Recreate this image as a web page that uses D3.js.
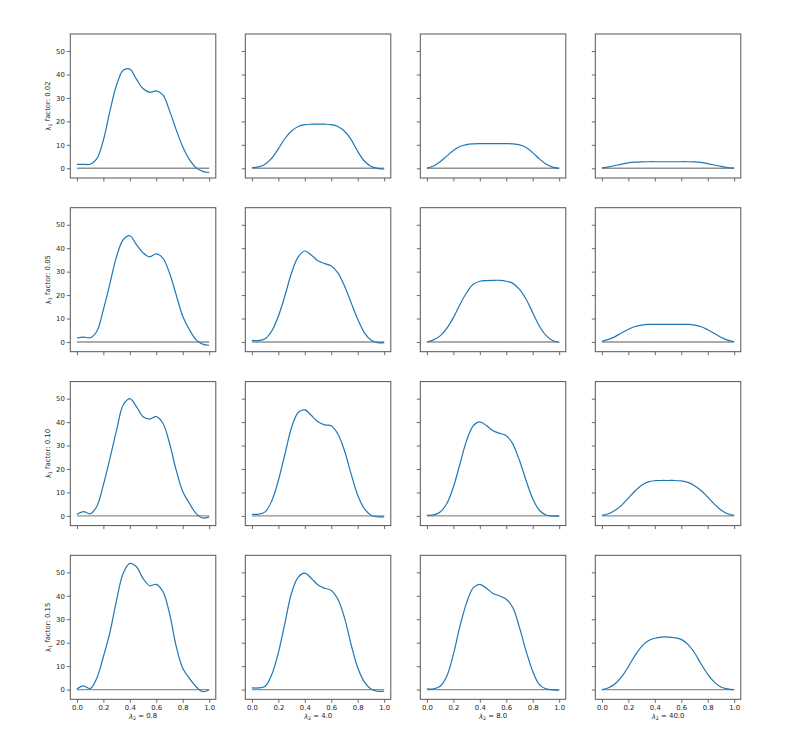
<!DOCTYPE html>
<html>
<head>
<meta charset="utf-8">
<script src="https://cdn.jsdelivr.net/npm/d3@7"></script>
<style>
  body { margin: 0; background: #fff; }
  svg { display: block; font-family: "DejaVu Sans", sans-serif; }
</style>
</head>
<body>
<svg id="chart" width="790" height="748"></svg>
<script>
// ---------------- data ----------------
const xValues = [0, 0.05, 0.1, 0.15, 0.2, 0.25, 0.3, 0.35, 0.4, 0.45, 0.5,
                 0.55, 0.6, 0.65, 0.7, 0.75, 0.8, 0.85, 0.9, 0.95, 1.0];
const lambda1Factors = ["0.02", "0.05", "0.10", "0.15"];
const lambda2Values = ["0.8", "4.0", "8.0", "40.0"];
const xTicks = [0, 0.2, 0.4, 0.6, 0.8, 1.0];
const yTicks = [0, 10, 20, 30, 40, 50];

// row: lambda1 factor 0.02
const f002_l08 = [1.7, 1.7, 1.7, 4.0, 12.0, 24.5, 35.5, 41.8, 42.3, 38.0, 34.0, 32.4, 33.0, 31.3, 24.6, 16.5, 9.2, 3.8, 0.3, -1.3, -1.8];
const f002_l40 = [0.3, 0.6, 1.7, 4.3, 8.3, 12.7, 15.9, 17.8, 18.6, 18.8, 18.8, 18.8, 18.6, 17.8, 15.8, 12.2, 7.2, 3.1, 0.9, 0.0, -0.3];
const f002_l80 = [0.1, 1.0, 2.8, 5.2, 7.6, 9.3, 10.1, 10.4, 10.5, 10.5, 10.5, 10.5, 10.5, 10.4, 10.0, 8.9, 6.7, 4.0, 1.8, 0.5, 0.0];
const f002_l400 = [0.2, 0.6, 1.2, 1.8, 2.3, 2.6, 2.75, 2.8, 2.8, 2.8, 2.8, 2.8, 2.8, 2.8, 2.75, 2.5, 2.0, 1.4, 0.8, 0.3, 0.1];
// row: lambda1 factor 0.05
const f005_l08 = [1.7, 2.1, 1.8, 4.5, 13.8, 25.0, 36.5, 43.6, 45.3, 41.5, 38.0, 36.3, 37.6, 35.8, 29.4, 20.2, 11.0, 5.3, 1.0, -0.9, -1.4];
const f005_l40 = [0.7, 0.6, 1.4, 4.7, 11.0, 19.8, 29.5, 36.3, 38.8, 37.0, 34.6, 33.4, 32.4, 29.5, 23.9, 16.8, 9.7, 4.0, 0.8, -0.3, -0.3];
const f005_l80 = [0.0, 0.9, 2.6, 5.8, 10.4, 16.0, 21.0, 24.6, 25.9, 26.2, 26.3, 26.3, 25.9, 25.0, 22.4, 18.2, 12.5, 6.8, 2.8, 0.6, -0.1];
const f005_l400 = [0.3, 1.1, 2.3, 3.9, 5.4, 6.6, 7.2, 7.5, 7.5, 7.5, 7.5, 7.5, 7.5, 7.5, 7.2, 6.5, 5.2, 3.6, 2.0, 0.8, 0.1];
// row: lambda1 factor 0.10
const f010_l08 = [0.7, 1.8, 0.9, 4.0, 13.2, 24.6, 36.6, 47.3, 50.0, 46.6, 42.3, 41.3, 42.3, 39.5, 31.0, 19.6, 10.4, 5.4, 1.1, -0.9, -0.4];
const f010_l40 = [0.7, 0.7, 1.7, 6.4, 15.1, 26.4, 37.7, 44.1, 45.2, 42.8, 40.1, 38.8, 38.4, 34.9, 27.8, 17.9, 8.8, 3.1, 0.3, -0.4, -0.4];
const f010_l80 = [0.3, 0.4, 1.7, 5.2, 12.3, 22.2, 32.1, 38.4, 40.1, 38.5, 36.3, 35.2, 34.2, 30.6, 23.6, 15.1, 7.3, 2.4, 0.4, 0.0, -0.1];
const f010_l400 = [0.2, 0.9, 2.4, 4.6, 7.6, 10.6, 13.1, 14.5, 15.0, 15.1, 15.1, 15.1, 14.9, 14.3, 12.9, 10.8, 8.0, 5.0, 2.5, 0.9, 0.2];
// row: lambda1 factor 0.15
const f015_l08 = [0.3, 1.6, 0.4, 4.8, 14.0, 24.5, 38.2, 49.6, 53.8, 52.4, 47.4, 44.3, 44.9, 41.8, 32.5, 18.6, 9.1, 4.8, 1.3, -0.9, -0.1];
const f015_l40 = [0.7, 0.7, 1.4, 6.4, 15.7, 28.5, 41.3, 48.0, 49.7, 47.4, 44.6, 43.2, 42.3, 38.5, 30.6, 19.2, 9.3, 3.3, 0.3, -0.7, -0.7];
const f015_l80 = [0.3, 0.3, 1.4, 5.7, 15.0, 27.1, 37.0, 43.4, 44.9, 43.2, 41.0, 39.9, 38.5, 34.9, 26.4, 16.4, 7.8, 2.1, 0.3, -0.1, -0.2];
const f015_l400 = [0.0, 0.8, 2.5, 5.5, 9.8, 14.5, 18.3, 20.8, 21.9, 22.4, 22.4, 22.1, 21.4, 19.3, 15.7, 10.9, 6.5, 3.2, 1.1, 0.3, 0.0];

const grid = [
  [f002_l08, f002_l40, f002_l80, f002_l400],
  [f005_l08, f005_l40, f005_l80, f005_l400],
  [f010_l08, f010_l40, f010_l80, f010_l400],
  [f015_l08, f015_l40, f015_l80, f015_l400]
];

// ---------------- layout ----------------
const colLeft = [70.3, 245.3, 420.3, 595.3];
const rowTop = [34, 207.7, 381.6, 555.3];
const panelW = 145.5, panelH = 144;

const svg = d3.select("#chart");
const x = d3.scaleLinear().domain([-0.05, 1.05]).range([0, panelW]);
const y = d3.scaleLinear().domain([-4.14, 57.27]).range([panelH, 0]);

const line = d3.line()
  .x((d, i) => x(xValues[i]))
  .y(d => y(d))
  .curve(d3.curveCatmullRom.alpha(0.5));

grid.forEach((row, r) => {
  row.forEach((vals, c) => {
    const g = svg.append("g").attr("transform", `translate(${colLeft[c]},${rowTop[r]})`);

    // zero baseline
    g.append("line")
      .attr("x1", x(0)).attr("x2", x(1))
      .attr("y1", y(0)).attr("y2", y(0))
      .attr("stroke", "#8f8f8f").attr("stroke-width", 1.4);

    // curve
    g.append("path")
      .datum(vals)
      .attr("d", line)
      .attr("fill", "none")
      .attr("stroke", "#1f77b4")
      .attr("stroke-width", 1.2);

    // axes
    const xAxis = d3.axisBottom(x).tickValues(xTicks).tickSize(3.5).tickPadding(2)
      .tickFormat(r === 3 ? d3.format(".1f") : () => "");
    const yAxis = d3.axisLeft(y).tickValues(yTicks).tickSize(3.5).tickPadding(2)
      .tickFormat(c === 0 ? d3.format("d") : () => "");

    const gx = g.append("g").attr("transform", `translate(0,${panelH})`).call(xAxis);
    const gy = g.append("g").call(yAxis);
    [gx, gy].forEach(a => {
      a.select(".domain").remove();
      a.selectAll("line").attr("stroke", "#444").attr("stroke-width", 0.8);
      a.selectAll("text").attr("fill", "#262626").style("font-size", "6.9px")
        .style("font-family", "'DejaVu Sans', sans-serif");
    });

    // frame
    g.append("rect")
      .attr("x", 0).attr("y", 0).attr("width", panelW).attr("height", panelH)
      .attr("fill", "none").attr("stroke", "#555").attr("stroke-width", 1);

    // y label (first column)
    if (c === 0) {
      const t = g.append("text")
        .attr("transform", `translate(-19.5,${panelH / 2}) rotate(-90)`)
        .attr("text-anchor", "middle")
        .attr("fill", "#262626")
        .style("font-size", "6.9px");
      t.append("tspan").text("λ");
      t.append("tspan").attr("dy", "0.3em").style("font-size", "4.8px").text("1");
      t.append("tspan").attr("dy", "-0.3em").text(" factor: " + lambda1Factors[r]);
    }
    // x label (last row)
    if (r === 3) {
      const t = g.append("text")
        .attr("x", x(0.5)).attr("y", panelH + 19.5)
        .attr("text-anchor", "middle")
        .attr("fill", "#262626")
        .style("font-size", "6.9px");
      t.append("tspan").style("font-style", "italic").text("λ");
      t.append("tspan").attr("dy", "0.3em").style("font-size", "4.8px").text("2");
      t.append("tspan").attr("dy", "-0.3em").text(" = " + lambda2Values[c]);
    }
  });
});
</script>
</body>
</html>
